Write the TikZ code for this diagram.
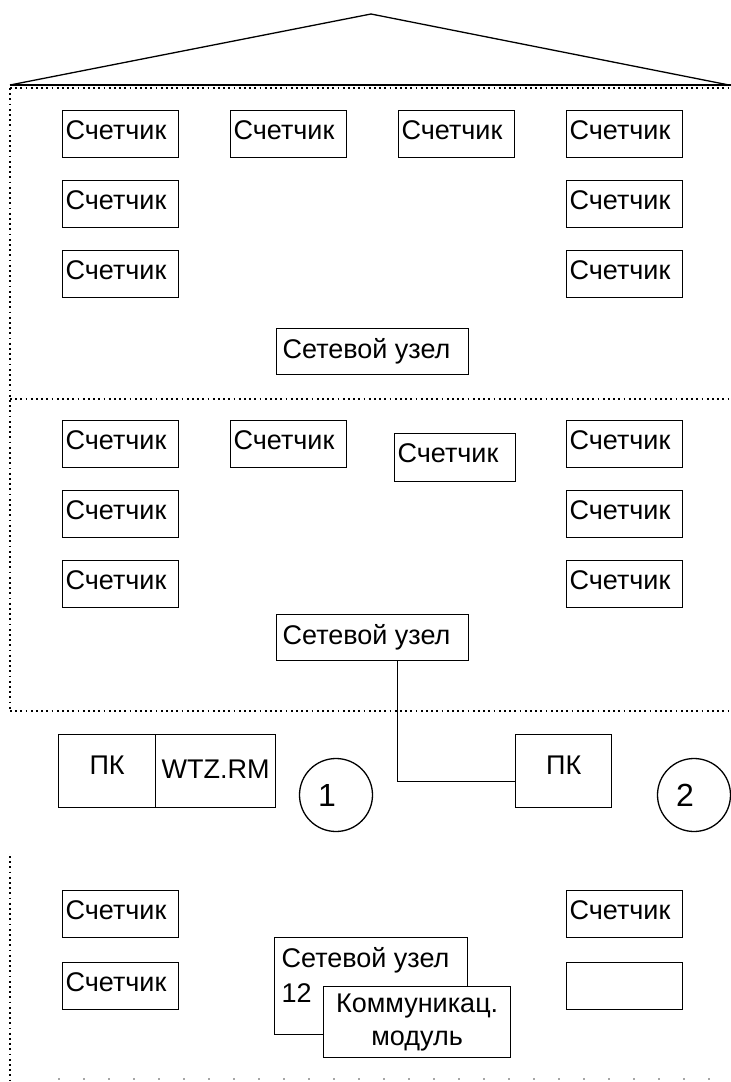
\documentclass[tikz,border=0pt]{standalone}
\usepackage{fontspec}
\setmainfont{Liberation Sans}
\begin{document}
\begin{tikzpicture}[x=1pt,y=-1pt,
  every node/.style={font=\fontsize{27}{32}\selectfont},
  box/.style={draw,line width=1.3pt,anchor=north west,inner ysep=0pt},
  meter/.style={box,inner xsep=3pt,minimum width=116pt,minimum height=47pt,text height=19.5pt,text depth=9pt},
  netnode/.style={box,inner xsep=6pt,minimum height=46pt,text height=19.5pt,text depth=5pt},
  pcbox/.style={box,align=center,minimum height=73pt,inner xsep=0pt},
  numcircle/.style={draw,line width=1.3pt,circle,minimum size=73pt,inner sep=0pt,
     font=\fontsize{32}{36}\selectfont,text height=23pt,text depth=-9pt},
  wire/.style={line width=1.3pt},
  floorline/.style={line width=1.7pt,dash pattern=on 1.7pt off 3.5pt},
  faintline/.style={line width=1.5pt,gray!70,dash pattern=on 2pt off 23pt}]
\useasboundingbox (0,0) rectangle (731,1082);
% roof
\coordinate (rl) at (10,85);
\coordinate (ra) at (371,14);
\coordinate (rr) at (729,85);
\coordinate (re) at (731,85);
\draw[wire] (rl) -- (ra) -- (rr);
\draw[wire] (rl) -- (re);
\draw[floorline] (10,88) -- (731,88);
\draw[floorline] (10,88) -- (10,711);
\draw[floorline] (10,399) -- (731,399);
\draw[floorline] (10,711) -- (731,711);
\draw[floorline] (10,856) -- (10,1082);
\draw[faintline] (58,1079) -- (731,1079);
% floor 1
\node[meter] (m11) at (62,110) {\makebox[110pt][l]{Счетчик}};
\node[meter] (m12) at (230,110) {\makebox[110pt][l]{Счетчик}};
\node[meter] (m13) at (398,110) {\makebox[110pt][l]{Счетчик}};
\node[meter] (m14) at (566,110) {\makebox[110pt][l]{Счетчик}};
\node[meter] (m15) at (62,180) {\makebox[110pt][l]{Счетчик}};
\node[meter] (m16) at (566,180) {\makebox[110pt][l]{Счетчик}};
\node[meter] (m17) at (62,250) {\makebox[110pt][l]{Счетчик}};
\node[meter] (m18) at (566,250) {\makebox[110pt][l]{Счетчик}};
\node[netnode] (net1) at (276,328) {\makebox[180pt][l]{Сетевой узел}};
% floor 2
\node[meter] (m21) at (62,420) {\makebox[110pt][l]{Счетчик}};
\node[meter] (m22) at (230,420) {\makebox[110pt][l]{Счетчик}};
\node[meter,minimum width=121pt,minimum height=48pt] (m23) at (394,433) {\makebox[115pt][l]{Счетчик}};
\node[meter] (m24) at (566,420) {\makebox[110pt][l]{Счетчик}};
\node[meter] (m25) at (62,490) {\makebox[110pt][l]{Счетчик}};
\node[meter] (m26) at (566,490) {\makebox[110pt][l]{Счетчик}};
\node[meter] (m27) at (62,560) {\makebox[110pt][l]{Счетчик}};
\node[meter] (m28) at (566,560) {\makebox[110pt][l]{Счетчик}};
\node[netnode] (net2) at (276,614) {\makebox[180pt][l]{Сетевой узел}};
% PCs
\node[pcbox,minimum width=97pt,text depth=12pt] (pc1) at (58,734) {ПК};
\node[pcbox,minimum width=120pt,text depth=4pt] (wtz) at (155,734) {WTZ.RM};
\node[pcbox,minimum width=96pt,text depth=12pt] (pc2) at (515,734) {ПК};
\node[numcircle] (c1) at (336,795) {\makebox[36pt][l]{1}};
\node[numcircle] (c2) at (694,795) {\makebox[36pt][l]{2}};
\draw[wire] ([xshift=25pt]net2.south) |- ([yshift=-10pt]pc2.west);
% bottom section
\node[meter] (m31) at (62,890) {\makebox[110pt][l]{Счетчик}};
\node[meter] (m32) at (62,962) {\makebox[110pt][l]{Счетчик}};
\node[meter] (m33) at (566,890) {\makebox[110pt][l]{Счетчик}};
\node[meter] (m34) at (566,962) {};
\node[box,minimum width=193pt,minimum height=97pt,inner xsep=7pt,anchor=north west,
      text height=19.5pt,text depth=56pt,
      font=\fontsize{27}{35}\selectfont] (net3) at (274,937)
  {\makebox[179pt][l]{\begin{tabular}[t]{@{}l@{}}Сетевой узел\\12\end{tabular}}};
\node[box,fill=white,minimum width=187pt,minimum height=71pt,inner xsep=0pt,align=center,
      font=\fontsize{27}{33}\selectfont] (comm) at (323,986) {Коммуникац.\\модуль};
\end{tikzpicture}
\end{document}
